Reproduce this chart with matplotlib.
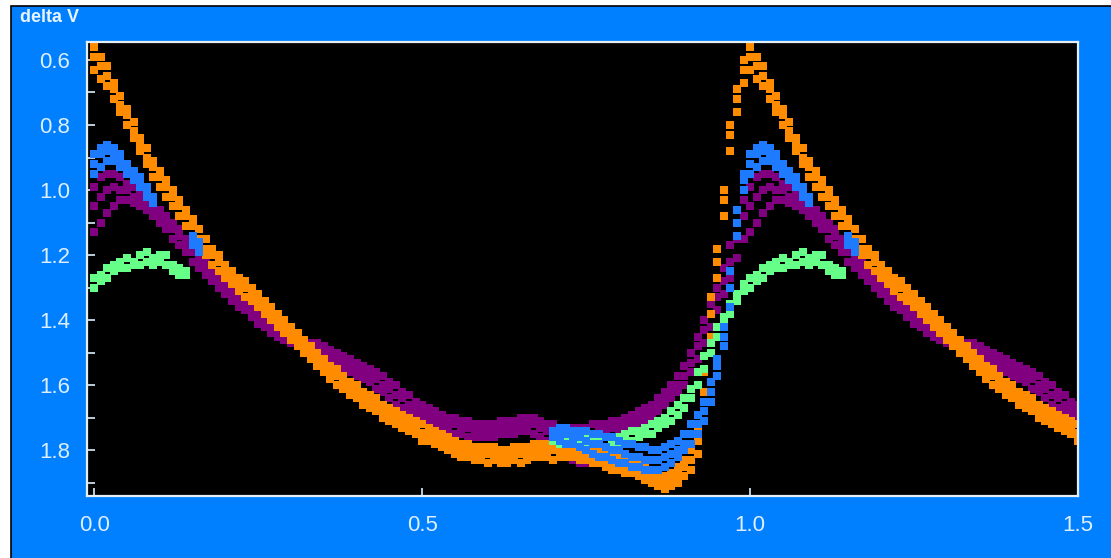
import numpy as np
import matplotlib
matplotlib.use("Agg")
import matplotlib.pyplot as plt
from matplotlib.patches import Rectangle
from matplotlib.ticker import MultipleLocator

# phase grid shared by the two full-cycle series
phase = np.arange(100) / 100

orange_a = [0.56, 0.59, 0.62, 0.67, 0.71, 0.75, 0.79, 0.84, 0.87, 0.91,
            0.94, 0.97, 1.00, 1.03, 1.06, 1.09, 1.12, 1.15, 1.18, 1.20,
            1.23, 1.25, 1.27, 1.28, 1.30, 1.32, 1.34, 1.36, 1.38, 1.40,
            1.42, 1.44, 1.46, 1.48, 1.50, 1.52, 1.54, 1.55, 1.57, 1.59,
            1.60, 1.62, 1.63, 1.64, 1.66, 1.67, 1.68, 1.69, 1.70, 1.71,
            1.72, 1.73, 1.74, 1.75, 1.76, 1.77, 1.78, 1.78, 1.79, 1.79,
            1.79, 1.79, 1.80, 1.80, 1.79, 1.79, 1.79, 1.78, 1.78, 1.78,
            1.78, 1.78, 1.78, 1.79, 1.79, 1.80, 1.80, 1.80, 1.81, 1.81,
            1.82, 1.82, 1.83, 1.84, 1.85, 1.86, 1.87, 1.88, 1.87, 1.85,
            1.83, 1.80, 1.73, 1.56, 1.33, 1.18, 1.00, 0.80, 0.69, 0.60]
orange_b = [0.59, 0.62, 0.65, 0.69, 0.74, 0.77, 0.82, 0.86, 0.90, 0.93,
            0.96, 0.99, 1.02, 1.05, 1.08, 1.11, 1.15, 1.18, 1.20, 1.22,
            1.25, 1.27, 1.29, 1.30, 1.32, 1.34, 1.36, 1.38, 1.40, 1.42,
            1.44, 1.46, 1.48, 1.50, 1.52, 1.54, 1.555, 1.57, 1.59, 1.61,
            1.62, 1.635, 1.645, 1.66, 1.675, 1.686, 1.70, 1.71, 1.72, 1.73,
            1.745, 1.75, 1.76, 1.77, 1.78, 1.79, 1.795, 1.80, 1.805, 1.81,
            1.81, 1.81, 1.815, 1.815, 1.815, 1.81, 1.81, 1.805, 1.80, 1.80,
            1.80, 1.80, 1.80, 1.805, 1.81, 1.815, 1.82, 1.82, 1.825, 1.835,
            1.84, 1.845, 1.85, 1.86, 1.87, 1.88, 1.895, 1.90, 1.89, 1.875,
            1.85, 1.83, 1.77, 1.62, 1.38, 1.22, 1.03, 0.83, 0.72, 0.63]
orange_c = [0.63, 0.66, 0.68, 0.72, 0.76, 0.80, 0.84, 0.88, 0.92, 0.96,
            0.99, 1.02, 1.05, 1.08, 1.11, 1.14, 1.17, 1.20, 1.23, 1.25,
            1.27, 1.29, 1.31, 1.33, 1.34, 1.36, 1.38, 1.40, 1.42, 1.44,
            1.46, 1.48, 1.50, 1.52, 1.54, 1.56, 1.58, 1.60, 1.61, 1.63,
            1.64, 1.66, 1.67, 1.68, 1.70, 1.71, 1.72, 1.73, 1.74, 1.75,
            1.77, 1.77, 1.78, 1.79, 1.80, 1.81, 1.82, 1.82, 1.83, 1.83,
            1.84, 1.83, 1.84, 1.84, 1.83, 1.84, 1.83, 1.82, 1.82, 1.82,
            1.83, 1.82, 1.82, 1.82, 1.83, 1.83, 1.84, 1.84, 1.85, 1.86,
            1.86, 1.87, 1.87, 1.88, 1.89, 1.90, 1.91, 1.92, 1.91, 1.90,
            1.88, 1.86, 1.81, 1.68, 1.45, 1.27, 1.08, 0.88, 0.76, 0.67]

purple_a = [0.99, 0.96, 0.95, 0.95, 0.96, 0.98, 0.99, 1.01, 1.02, 1.04,
            1.06, 1.08, 1.10, 1.12, 1.15, 1.17, 1.20, 1.22, 1.24, 1.26,
            1.28, 1.30, 1.32, 1.34, 1.36, 1.37, 1.39, 1.40, 1.42, 1.43,
            1.44, 1.45, 1.46, 1.47, 1.47, 1.48, 1.49, 1.50, 1.51, 1.52,
            1.53, 1.54, 1.55, 1.56, 1.57, 1.59, 1.60, 1.62, 1.63, 1.65,
            1.66, 1.67, 1.68, 1.69, 1.70, 1.70, 1.71, 1.71, 1.72, 1.72,
            1.72, 1.72, 1.71, 1.71, 1.71, 1.70, 1.70, 1.70, 1.71, 1.72,
            1.72, 1.73, 1.73, 1.73, 1.73, 1.73, 1.72, 1.72, 1.72, 1.71,
            1.71, 1.70, 1.69, 1.68, 1.67, 1.66, 1.64, 1.62, 1.60, 1.57,
            1.54, 1.50, 1.45, 1.40, 1.35, 1.30, 1.24, 1.17, 1.10, 1.03]
purple_b = [1.05, 1.02, 1.00, 0.99, 1.00, 1.00, 1.02, 1.03, 1.04, 1.06,
            1.08, 1.10, 1.12, 1.14, 1.17, 1.19, 1.22, 1.24, 1.26, 1.28,
            1.30, 1.32, 1.34, 1.36, 1.37, 1.39, 1.40, 1.42, 1.43, 1.45,
            1.46, 1.47, 1.48, 1.48, 1.49, 1.50, 1.51, 1.52, 1.53, 1.54,
            1.55, 1.56, 1.57, 1.58, 1.60, 1.61, 1.63, 1.64, 1.66, 1.67,
            1.68, 1.69, 1.70, 1.71, 1.72, 1.72, 1.73, 1.73, 1.74, 1.74,
            1.74, 1.74, 1.73, 1.73, 1.73, 1.72, 1.72, 1.72, 1.73, 1.74,
            1.75, 1.76, 1.76, 1.77, 1.76, 1.75, 1.75, 1.74, 1.74, 1.73,
            1.73, 1.72, 1.71, 1.70, 1.69, 1.68, 1.66, 1.64, 1.62, 1.60,
            1.57, 1.53, 1.48, 1.43, 1.38, 1.33, 1.28, 1.22, 1.15, 1.08]
purple_c = [1.13, 1.10, 1.07, 1.05, 1.03, 1.03, 1.04, 1.05, 1.06, 1.08,
            1.10, 1.12, 1.15, 1.17, 1.19, 1.22, 1.24, 1.26, 1.28, 1.30,
            1.32, 1.34, 1.36, 1.37, 1.39, 1.41, 1.42, 1.44, 1.45, 1.46,
            1.47, 1.48, 1.49, 1.50, 1.51, 1.52, 1.53, 1.54, 1.55, 1.56,
            1.57, 1.58, 1.59, 1.61, 1.62, 1.64, 1.66, 1.67, 1.68, 1.69,
            1.70, 1.71, 1.72, 1.73, 1.74, 1.75, 1.75, 1.76, 1.76, 1.76,
            1.76, 1.76, 1.75, 1.75, 1.75, 1.74, 1.74, 1.75, 1.76, 1.77,
            1.78, 1.80, 1.81, 1.83, 1.84, 1.84, 1.83, 1.82, 1.80, 1.76,
            1.75, 1.74, 1.73, 1.72, 1.71, 1.70, 1.68, 1.66, 1.64, 1.62,
            1.60, 1.56, 1.52, 1.47, 1.42, 1.37, 1.32, 1.27, 1.21, 1.15]

blue_phase = [0.00, 0.01, 0.02, 0.03, 0.04, 0.05, 0.06, 0.07, 0.08, 0.09,
              0.15, 0.16,
              0.70, 0.71, 0.72, 0.73, 0.74, 0.75, 0.76, 0.77, 0.78, 0.79,
              0.80, 0.81, 0.82, 0.83, 0.84, 0.85, 0.86, 0.87, 0.88, 0.89,
              0.90, 0.91, 0.92, 0.93, 0.94, 0.95, 0.96, 0.97, 0.98, 0.99]
blue_a = [0.89, 0.87, 0.86, 0.87, 0.89, 0.92, 0.94, 0.96, 0.99, 1.02,
          1.14, 1.16,
          1.74, 1.73, 1.73, 1.74, 1.74, 1.74, 1.75, 1.75, 1.76, 1.76,
          1.77, 1.78, 1.78, 1.79, 1.79, 1.80, 1.80, 1.79, 1.78, 1.77,
          1.75, 1.72, 1.69, 1.65, 1.59, 1.52, 1.42, 1.25, 1.06, 0.95]
blue_b = [0.92, 0.89, 0.88, 0.89, 0.91, 0.93, 0.95, 0.98, 1.00, 1.03,
          1.16, 1.17,
          1.75, 1.75, 1.75, 1.76, 1.76, 1.77, 1.78, 1.78, 1.79, 1.80,
          1.80, 1.81, 1.82, 1.82, 1.83, 1.83, 1.83, 1.82, 1.81, 1.80,
          1.78, 1.75, 1.72, 1.68, 1.62, 1.54, 1.45, 1.30, 1.10, 0.97]
blue_c = [0.95, 0.93, 0.91, 0.91, 0.93, 0.95, 0.97, 0.99, 1.02, 1.04,
          1.17, 1.19,
          1.76, 1.77, 1.78, 1.78, 1.79, 1.80, 1.81, 1.82, 1.82, 1.83,
          1.84, 1.84, 1.85, 1.85, 1.86, 1.86, 1.86, 1.85, 1.84, 1.82,
          1.80, 1.78, 1.75, 1.71, 1.65, 1.57, 1.48, 1.36, 1.14, 1.00]

green_phase = [0.00, 0.01, 0.02, 0.03, 0.04, 0.05, 0.06, 0.07, 0.08, 0.09,
               0.10, 0.11, 0.12, 0.13, 0.14,
               0.70, 0.71, 0.72, 0.73, 0.74, 0.75, 0.76, 0.77, 0.78, 0.79,
               0.80, 0.81, 0.82, 0.83, 0.84, 0.85, 0.86, 0.87, 0.88, 0.89,
               0.90, 0.91, 0.92, 0.93, 0.94, 0.95, 0.96, 0.97, 0.98, 0.99]
green_a = [1.27, 1.26, 1.24, 1.23, 1.22, 1.21, 1.22, 1.20, 1.19, 1.21,
           1.20, 1.20, 1.23, 1.24, 1.25,
           1.75, 1.75, 1.76, 1.76, 1.77, 1.76, 1.77, 1.76, 1.76, 1.76,
           1.76, 1.75, 1.74, 1.74, 1.73, 1.72, 1.71, 1.70, 1.68, 1.66,
           1.64, 1.61, 1.56, 1.51, 1.47, 1.42, 1.39, 1.35, 1.32, 1.29]
green_b = [1.30, 1.28, 1.27, 1.25, 1.24, 1.24, 1.23, 1.23, 1.22, 1.23,
           1.22, 1.23, 1.25, 1.26, 1.26,
           1.77, 1.78, 1.77, 1.78, 1.78, 1.79, 1.78, 1.78, 1.79, 1.78,
           1.78, 1.77, 1.77, 1.76, 1.75, 1.75, 1.73, 1.72, 1.71, 1.69,
           1.67, 1.64, 1.60, 1.55, 1.50, 1.45, 1.41, 1.38, 1.34, 1.31]


def folded(ph, vals):
    # repeat the first half cycle after phase 1.0
    ph = np.asarray(ph, dtype=float)
    vals = np.asarray(vals, dtype=float)
    keep = ph <= 0.5
    return np.concatenate([ph, ph[keep] + 1]), np.concatenate([vals, vals[keep]])


fig = plt.figure(figsize=(11.11, 5.58), dpi=100)
fig.patch.set_facecolor("white")
fig.patches.append(Rectangle((10.5 / 1111, -0.02), 1.0, 1.02 - 6.5 / 558,
                             transform=fig.transFigure, facecolor="#0080FF",
                             edgecolor="black", linewidth=1.2, zorder=-10))

ax = fig.add_axes([87 / 1111, 1 - 496 / 558, (1078 - 87) / 1111, (496 - 42) / 558])
ax.set_facecolor("black")

ms = 5.6
series = [
    (phase, [purple_a, purple_b, purple_c], "#800080"),
    (phase, [orange_a, orange_b, orange_c], "#FF8C00"),
    (green_phase, [green_a, green_b], "#66FF88"),
    (blue_phase, [blue_a, blue_b, blue_c], "#1E7BFF"),
]
for ph, groups, col in series:
    for vals in groups:
        x, y = folded(ph, vals)
        ax.plot(x, y, "s", color=col, ms=ms, mew=0, linestyle="none")

ax.set_xlim(-0.011, 1.5)
ax.set_ylim(1.94, 0.545)

tick_col = "#DDEFFF"
ax.xaxis.set_major_locator(MultipleLocator(0.5))
ax.yaxis.set_major_locator(MultipleLocator(0.2))
ax.yaxis.set_minor_locator(MultipleLocator(0.1))
ax.xaxis.set_major_formatter(matplotlib.ticker.FormatStrFormatter("%.1f"))
ax.yaxis.set_major_formatter(matplotlib.ticker.FormatStrFormatter("%.1f"))
ax.tick_params(axis="both", which="both", direction="in", length=6, width=1.2,
               color=tick_col, labelcolor=tick_col, labelsize=16)
ax.tick_params(axis="y", which="major", pad=12)
ax.tick_params(axis="x", which="major", pad=14)
ax.tick_params(top=False, right=False)
for lab in ax.get_xticklabels() + ax.get_yticklabels():
    lab.set_family("Liberation Sans")
for sp in ax.spines.values():
    sp.set_color("#E6EEF5")
    sp.set_linewidth(1.6)

fig.text(20 / 1111, 1 - 18 / 558, "delta V", ha="left", va="center",
         color="#E8F4FF", fontsize=13, fontweight="bold", family="Liberation Sans")

fig.savefig("out.png", dpi=100, facecolor=fig.get_facecolor())
